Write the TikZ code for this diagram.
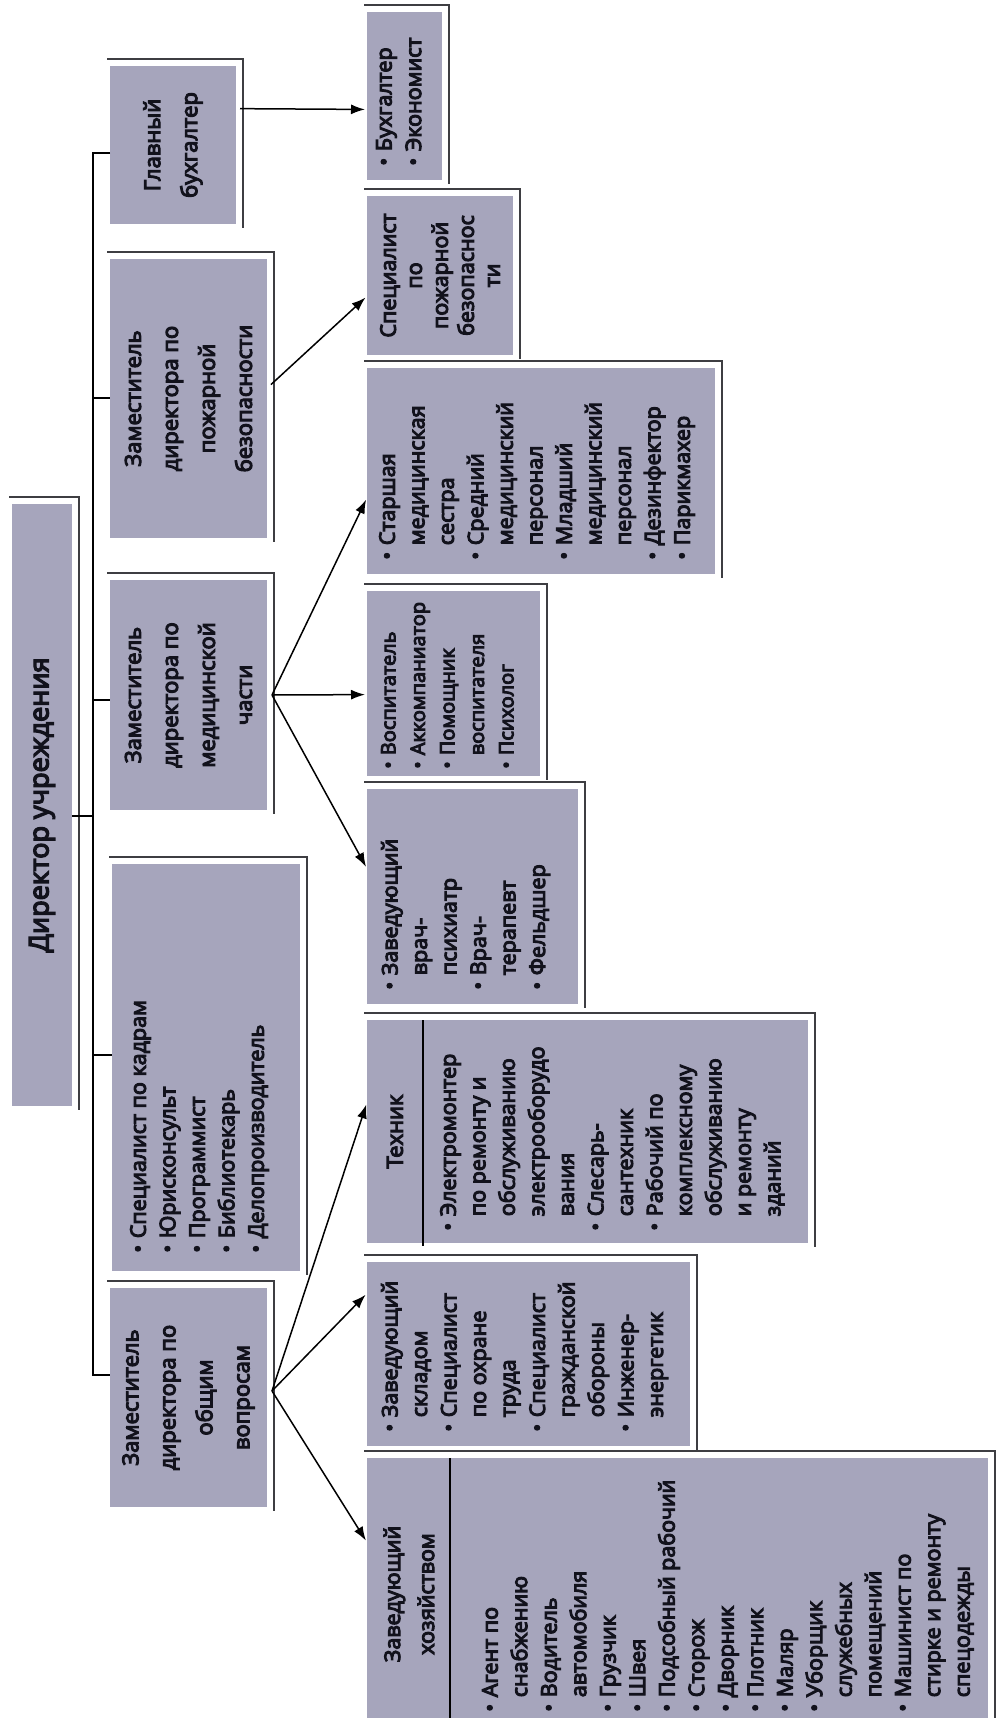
\documentclass[tikz,border=0pt]{standalone}
\usepackage{fontspec}
\setmainfont{Open Sans}[FakeBold=5]
\usetikzlibrary{arrows.meta,calc}
\definecolor{cellfill}{RGB}{166,165,188}
\definecolor{inktext}{RGB}{18,18,28}
\definecolor{frameline}{RGB}{62,62,66}
\newcommand\bul{\makebox[0.68em][l]{\textbullet}}
\newcommand\ind{\hspace*{0.68em}}
% grey cell with a thin shadow line along its top and right sides
\newcommand\orgcell[5]{%
  \node[cell,minimum width=#4pt,minimum height=#5pt] (#1) at (#2,#3) {};
  \draw[shadowline] ([shift={(-3pt,7pt)}]#1.north west) -- ([shift={(7pt,7pt)}]#1.north east) -- ([shift={(7pt,-4pt)}]#1.south east);
}
\begin{document}
\begin{tikzpicture}[x=1pt,y=-1pt,
  cell/.style={fill=cellfill,draw=none,inner sep=0pt,outer sep=0pt,anchor=north west},
  listtxt/.style={rotate=90,anchor=north west,align=left,inner sep=0pt,text=inktext,font=\fontsize{21.5}{29.5}\selectfont},
  headtxt/.style={rotate=90,align=center,inner sep=0pt,text=inktext,font=\fontsize{22}{37}\selectfont},
  conn/.style={draw=black,line width=1.5pt},
  arr/.style={conn,-{Latex[length=14pt,width=10pt]},shorten >=2pt},
  shadowline/.style={draw=frameline,line width=1.3pt}
]
\useasboundingbox (0,0) rectangle (996,1718);

% director and first level
\orgcell{dir}{12}{504}{60}{602}
\orgcell{gb}{110}{66}{126}{158}
\orgcell{zpb}{110}{259}{157}{279}
\orgcell{zmc}{110}{580}{157}{230}
\orgcell{kad}{112}{864}{188}{407}
\orgcell{zov}{110}{1288}{157}{219}

% second level
\orgcell{buh}{367}{12}{75}{168}
\orgcell{spp}{367}{196}{146}{159}
\orgcell{sta}{367}{368}{348}{206}
\orgcell{vos}{367}{591}{173}{185}
\orgcell{zvr}{367}{789}{211}{215}
\orgcell{teh}{367}{1020}{441}{223}
\orgcell{skl}{367}{1262}{323}{184}
\orgcell{hoz}{367}{1458}{621}{272}

% texts
\node[headtxt,font=\fontsize{27}{32}\selectfont] at (dir.center) {Директор учреждения};
\node[headtxt] at (gb.center) {Главный\\бухгалтер};
\node[headtxt] at (zpb.center) {Заместитель\\директора по\\пожарной\\безопасности};
\node[headtxt] at (zmc.center) {Заместитель\\директора по\\медицинской\\части};
\node[headtxt] at (zov.center) {Заместитель\\директора по\\общим\\вопросам};
\node[listtxt] at ([shift={(18pt,18pt)}]kad.south west)
  {\bul Специалист по кадрам\\\bul Юрисконсульт\\\bul Программист\\\bul Библиотекарь\\\bul Делопроизводитель};

\node[listtxt] at ([shift={(9pt,14pt)}]buh.south west) {\bul Бухгалтер\\\bul Экономист};
\node[headtxt,font=\fontsize{21.5}{26}\selectfont] at (spp.center) {Специалист\\по\\пожарной\\безопаснос\\ти};
\node[listtxt] at ([shift={(12pt,14pt)}]sta.south west)
  {\bul Старшая\\\ind медицинская\\\ind сестра\\\bul Средний\\\ind медицинский\\\ind персонал\\\bul Младший\\\ind медицинский\\\ind персонал\\\bul Дезинфектор\\\bul Парикмахер};
\node[listtxt,font=\fontsize{20}{29.5}\selectfont] at ([shift={(14pt,7pt)}]vos.south west)
  {\bul Воспитатель\\\bul Аккомпаниатор\\\bul Помощник\\\ind воспитателя\\\bul Психолог};
\node[listtxt] at ([shift={(14pt,14pt)}]zvr.south west)
  {\bul Заведующий\\\ind врач-\\\ind психиатр\\\bul Врач-\\\ind терапевт\\\bul Фельдшер};

\draw[conn,line width=1.2pt] ([xshift=56pt]teh.north west) -- ([shift={(56pt,-3pt)}]teh.south west);
\node[headtxt] at ($(teh.north west)!0.5!(teh.south west)+(28pt,0)$) {Техник};
\node[listtxt] at ([shift={(73pt,12pt)}]teh.south west)
  {\bul Электромонтер\\\ind по ремонту и\\\ind обслуживанию\\\ind электрооборудо\\\ind вания\\\bul Слесарь-\\\ind сантехник\\\bul Рабочий по\\\ind комплексному\\\ind обслуживанию\\\ind и ремонту\\\ind зданий};

\node[listtxt] at ([shift={(14pt,14pt)}]skl.south west)
  {\bul Заведующий\\\ind складом\\\bul Специалист\\\ind по охране\\\ind труда\\\bul Специалист\\\ind гражданской\\\ind обороны\\\bul Инженер-\\\ind энергетик};

\draw[conn,line width=1.2pt] ([xshift=83pt]hoz.north west) -- ([xshift=83pt]hoz.south west);
\node[headtxt,font=\fontsize{21.5}{34}\selectfont] at ($(hoz.north west)!0.5!(hoz.south west)+(42pt,0)$) {Заведующий\\хозяйством};
\node[listtxt] at ([shift={(115pt,18pt)}]hoz.south west)
  {\bul Агент по\\\ind снабжению\\\bul Водитель\\\ind автомобиля\\\bul Грузчик\\\bul Швея\\\bul Подсобный рабочий\\\bul Сторож\\\bul Дворник\\\bul Плотник\\\bul Маляр\\\bul Уборщик\\\ind служебных\\\ind помещений\\\bul Машинист по\\\ind стирке и ремонту\\\ind спецодежды};

% bus from the director to the first level
\coordinate (busTop) at (93,153);
\coordinate (busBot) at (93,1375);
\coordinate (tZpb) at (93,398);
\coordinate (tZmc) at (93,700);
\coordinate (tKad) at (93,1055);
\coordinate (tDir) at (93,816);
\draw[conn] (gb.west |- busTop) -- (busTop) -- (busBot) -- (zov.west |- busBot);
\draw[conn] (tZpb) -- (zpb.west |- tZpb);
\draw[conn] (tZmc) -- (zmc.west |- tZmc);
\draw[conn] (tKad) -- (kad.west |- tKad);
\draw[conn] (dir.east |- tDir) -- (tDir);

% arrows to the subordinates
\draw[arr] ($(gb.north east)!0.27!(gb.south east)+(4pt,0)$) -- ($(buh.north west)!0.58!(buh.south west)$);
\draw[arr] ($(zpb.north east)!0.45!(zpb.south east)+(4pt,0)$) -- ($(spp.north west)!0.63!(spp.south west)$);
\coordinate (mcSrc) at ($(zmc.east)+(5pt,0)$);
\draw[arr] (mcSrc) -- ($(sta.north west)!0.63!(sta.south west)$);
\draw[arr] (mcSrc) -- ($(vos.north west)!0.56!(vos.south west)$);
\draw[arr] (mcSrc) -- ($(zvr.north west)!0.37!(zvr.south west)$);
\coordinate (ovSrc) at ($(zov.north east)!0.47!(zov.south east)+(5pt,0)$);
\draw[arr] (ovSrc) -- ($(teh.north west)!0.37!(teh.south west)$);
\draw[arr] (ovSrc) -- ($(skl.north west)!0.17!(skl.south west)$);
\draw[arr] (ovSrc) -- ($(hoz.north west)!0.31!(hoz.south west)$);
\end{tikzpicture}
\end{document}
